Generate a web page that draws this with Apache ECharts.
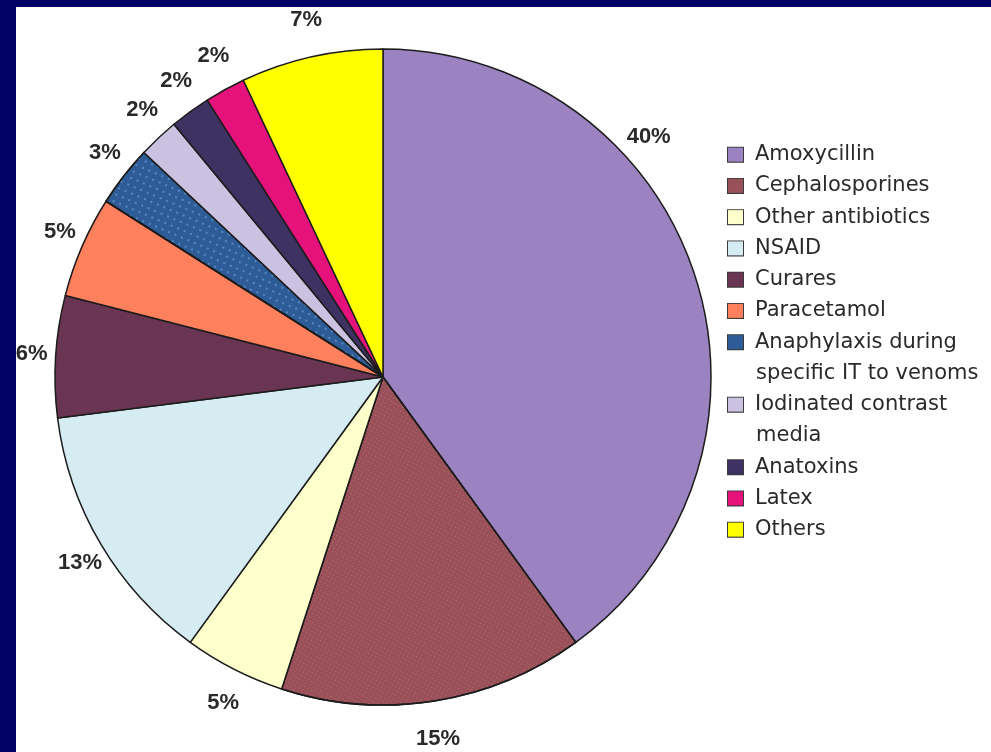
<!DOCTYPE html>
<html>
<head>
<meta charset="utf-8">
<script src="https://cdn.jsdelivr.net/npm/echarts@6/dist/echarts.min.js"></script>
<style>
  html, body { margin: 0; padding: 0; background: #000066; }
  #chart { width: 991px; height: 752px; }
</style>
</head>
<body>
<div id="chart"></div>
<script>
// ---- data ----
const CATEGORIES = [
  'Amoxycillin',
  'Cephalosporines',
  'Other antibiotics',
  'NSAID',
  'Curares',
  'Paracetamol',
  'Anaphylaxis during\nspecific IT to venoms',
  'Iodinated contrast\nmedia',
  'Anatoxins',
  'Latex',
  'Others'
];
const VALUES = [40, 15, 5, 13, 6, 5, 3, 2, 2, 2, 7];

// ---- styles ----
const COLORS = [
  '#9b82c0', '#9a5058', '#ffffcc', '#d6ecf3', '#6a3552', '#ff805c',
  '#2d5c96', '#cbc1e0', '#3d3262', '#e6127c', '#ffff00'
];
const CX = 383, CY = 377, R = 328;
const RLX = 352, RLY = 366;          // label distance (horizontal / vertical)
const LABEL_ANGLE = { 0: 49 };       // manual label angle (deg, clockwise from top)

const DECALS = {
  1: { symbol: 'circle', symbolSize: 1, color: 'rgba(255,200,200,0.35)', dashArrayX: [1, 3], dashArrayY: [1, 3], rotation: 0.5 },
  6: { symbol: 'circle', symbolSize: 1, color: 'rgba(120,170,230,0.75)', dashArrayX: [2, 5], dashArrayY: [2, 5], rotation: 0.4 }
};

const chart = echarts.init(document.getElementById('chart'), null, { renderer: 'canvas' });

const rich = {
  sp: { width: 12, height: 14, lineHeight: 31.25 },
  pad: { width: 28, height: 14, lineHeight: 31.25 },
  t: { fontFamily: 'DejaVu Sans', fontSize: 21, color: '#2a2a2a', lineHeight: 31.25 }
};
COLORS.forEach(function (c, i) {
  rich['c' + i] = {
    width: 15, height: 14, backgroundColor: c,
    borderColor: '#3a3a3a', borderWidth: 1, lineHeight: 31.25
  };
});

const data = CATEGORIES.map(function (name, i) {
  const item = {
    name: name,
    value: VALUES[i],
    itemStyle: { color: COLORS[i] }
  };
  if (DECALS[i]) item.itemStyle.decal = DECALS[i];
  return item;
});

function midAngle(idx) {
  let before = 0, total = 0;
  VALUES.forEach(function (v, k) { total += v; if (k < idx) before += v; });
  return (before + VALUES[idx] / 2) / total * 2 * Math.PI;
}

const option = {
  backgroundColor: '#000066',
  animation: false,
  graphic: [{
    type: 'rect',
    z: -10,
    silent: true,
    shape: { x: 16, y: 7, width: 991 - 16, height: 752 - 7 },
    style: { fill: '#ffffff' }
  }],
  legend: {
    orient: 'vertical',
    left: 723,
    top: 139,
    padding: 0,
    itemGap: 0,
    itemWidth: 0,
    itemHeight: 14,
    icon: 'none',
    data: CATEGORIES,
    textStyle: { fontFamily: 'DejaVu Sans', fontSize: 21, color: '#2a2a2a', lineHeight: 31.25, rich: rich },
    formatter: function (name) {
      const i = CATEGORIES.indexOf(name);
      const lines = name.split('\n');
      return lines.map(function (ln, k) {
        return (k === 0 ? '{c' + i + '|}{sp|}' : '{pad|}') + '{t|' + ln + '}';
      }).join('\n');
    }
  },
  series: [{
    type: 'pie',
    center: [CX, CY],
    radius: R,
    startAngle: 90,
    clockwise: true,
    avoidLabelOverlap: false,
    data: data,
    itemStyle: { borderColor: '#1c1c1c', borderWidth: 1.5 },
    label: {
      show: true,
      position: 'outside',
      formatter: '{c}%',
      fontFamily: 'Liberation Sans',
      fontWeight: 'bold',
      fontSize: 22,
      color: '#2a2a2a'
    },
    labelLine: {
      show: true,
      length: 30,
      length2: 0,
      lineStyle: { width: 0, opacity: 0 }
    },
    labelLayout: function (p) {
      let dx, dy;
      const pts = p.labelLinePoints;
      if (LABEL_ANGLE[p.dataIndex] == null && pts && pts.length > 1) {
        const vx = pts[1][0] - pts[0][0], vy = pts[1][1] - pts[0][1];
        const len = Math.sqrt(vx * vx + vy * vy) || 1;
        dx = vx / len; dy = vy / len;
      } else {
        const a = LABEL_ANGLE[p.dataIndex] != null
          ? LABEL_ANGLE[p.dataIndex] * Math.PI / 180
          : midAngle(p.dataIndex);
        dx = Math.sin(a); dy = -Math.cos(a);
      }
      return { x: CX + RLX * dx, y: CY + RLY * dy, align: 'center', verticalAlign: 'middle' };
    },
    emphasis: { scale: false }
  }]
};

chart.setOption(option);
</script>
</body>
</html>
